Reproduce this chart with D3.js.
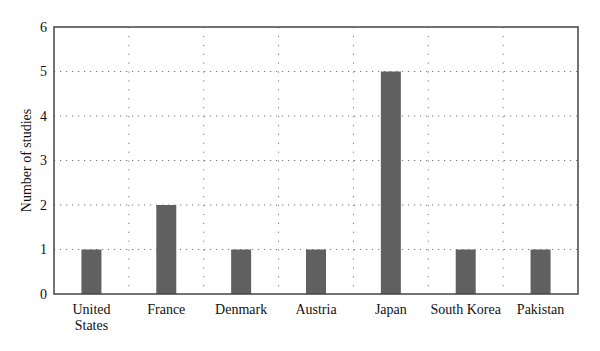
<!DOCTYPE html>
<html><head><meta charset="utf-8">
<script src="https://cdn.jsdelivr.net/npm/d3@7"></script>
<style>body{margin:0;background:#fff}svg{display:block}</style>
</head><body>
<script>
const categories = ["United States","France","Denmark","Austria","Japan","South Korea","Pakistan"];
const studies = [1,2,1,1,5,1,1];
const yTicks = [0,1,2,3,4,5,6];

const W=600,H=351;
const m={l:54,r:22,t:27,b:57};
const svg=d3.select("body").append("svg").attr("width",W).attr("height",H);
const x=d3.scaleBand().domain(categories).range([m.l,W-m.r]);
const y=d3.scaleLinear().domain([0,6]).range([H-m.b,m.t]);
const font="'Liberation Serif', 'DejaVu Serif', serif";

// grid
svg.append("g").selectAll("line").data(yTicks.slice(1,-1)).join("line")
 .attr("x1",m.l).attr("x2",W-m.r).attr("y1",d=>y(d)).attr("y2",d=>y(d))
 .attr("stroke","#777").attr("stroke-width",1).attr("stroke-dasharray","1.2,4.8");
svg.append("g").selectAll("line").data(categories.slice(1)).join("line")
 .attr("x1",d=>x(d)).attr("x2",d=>x(d)).attr("y1",m.t).attr("y2",H-m.b)
 .attr("stroke","#777").attr("stroke-width",1).attr("stroke-dasharray","1.2,7.7");

// bars
const bw=20;
svg.append("g").selectAll("rect").data(categories).join("rect")
 .attr("x",(d)=>x(d)+x.bandwidth()/2-bw/2).attr("width",bw)
 .attr("y",(d,i)=>y(studies[i])).attr("height",(d,i)=>y(0)-y(studies[i]))
 .attr("fill","#606060");

// frame
svg.append("rect").attr("x",m.l).attr("y",m.t).attr("width",W-m.r-m.l).attr("height",H-m.b-m.t)
 .attr("fill","none").attr("stroke","#444").attr("stroke-width",1.5);

// y axis
const ya=svg.append("g").attr("transform",`translate(${m.l},0)`)
 .call(d3.axisLeft(y).tickValues(yTicks).tickSize(0).tickPadding(7).tickFormat(d3.format("d")));
ya.select(".domain").remove();
ya.selectAll("text").attr("font-family",font).attr("font-size",14).attr("fill","#111");

// x axis
const xa=svg.append("g").attr("transform",`translate(0,${H-m.b})`)
 .call(d3.axisBottom(x).tickSize(0).tickPadding(10));
xa.select(".domain").remove();
xa.selectAll("text").attr("font-family",font).attr("font-size",14).attr("fill","#111")
 .each(function(d){
   if(d==="United States"){
     const t=d3.select(this); t.text(null);
     t.append("tspan").attr("x",0).attr("dy","0.71em").text("United");
     t.append("tspan").attr("x",0).attr("dy","1.15em").text("States");
     t.attr("dy",null);
   }
 });

svg.append("text").attr("transform",`translate(31,${(m.t+H-m.b)/2}) rotate(-90)`)
 .attr("text-anchor","middle").attr("font-family",font).attr("font-size",14).attr("fill","#111")
 .text("Number of studies");
</script>
</body></html>
